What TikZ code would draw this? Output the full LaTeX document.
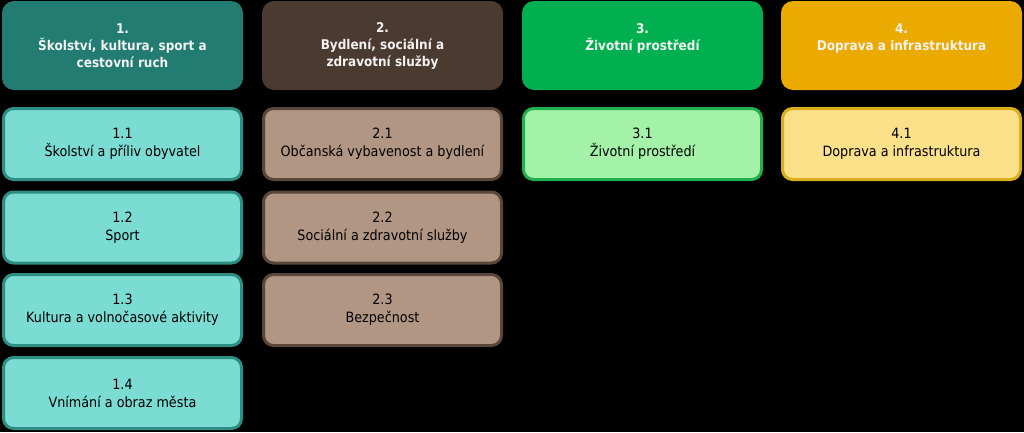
\documentclass[tikz,border=0pt]{standalone}
\usepackage{fontspec}
\setmainfont{DejaVu Sans Condensed}
\usepackage{tikz}
\usetikzlibrary{positioning}

\definecolor{hlavA}{HTML}{227C72}
\definecolor{hlavB}{HTML}{4A3A30}
\definecolor{hlavC}{HTML}{00B050}
\definecolor{hlavD}{HTML}{EAAA00}
\definecolor{podA}{HTML}{7ADCD3}
\definecolor{podB}{HTML}{B29684}
\definecolor{podC}{HTML}{A3F2A8}
\definecolor{podD}{HTML}{F9E089}
\definecolor{okrA}{HTML}{2E8E84}
\definecolor{okrB}{HTML}{5A463A}
\definecolor{okrC}{HTML}{22B04E}
\definecolor{okrD}{HTML}{D9AE1A}

\begin{document}
\begin{tikzpicture}[x=1pt,y=-1pt,
		hlava/.style={rounded corners=12pt, minimum width=241pt, minimum height=89pt,
			text=white!95!black, align=center, font=\fontsize{13.4}{17}\selectfont\bfseries, inner sep=0pt},
		pod/.style={rounded corners=10pt, minimum width=238pt, minimum height=71pt,
			line width=3pt, text=black, align=center, font=\fontsize{14.2}{18}\selectfont, inner sep=0pt}]
		
		\fill[black] (0,0) rectangle (1024,432);
		\useasboundingbox (0,0) rectangle (1024,432);
		
		% hlavni oblasti
		\node[hlava, fill=hlavA] (h1) at (122.5,45.5) {1.\\Školství, kultura, sport a\\cestovní ruch};
		\node[hlava, fill=hlavB] (h2) at (382.5,45.5) {2.\\Bydlení, sociální a\\zdravotní služby};
		\node[hlava, fill=hlavC] (h3) at (642.5,45.5) {3.\\Životní prostředí\\~};
		\node[hlava, fill=hlavD] (h4) at (901.5,45.5) {4.\\Doprava a infrastruktura\\~};
		
		% podoblasti
		\node[pod, fill=podA, draw=okrA] (p11) at (122.5,144) {1.1\\Školství a příliv obyvatel};
		\node[pod, fill=podA, draw=okrA] (p12) at (122.5,227.5) {1.2\\Sport};
		\node[pod, fill=podA, draw=okrA] (p13) at (122.5,310) {1.3\\Kultura a volnočasové aktivity};
		\node[pod, fill=podA, draw=okrA] (p14) at (122.5,393) {1.4\\Vnímání a obraz města};
		
		\node[pod, fill=podB, draw=okrB] (p21) at (382.5,144) {2.1\\Občanská vybavenost a bydlení};
		\node[pod, fill=podB, draw=okrB] (p22) at (382.5,227.5) {2.2\\Sociální a zdravotní služby};
		\node[pod, fill=podB, draw=okrB] (p23) at (382.5,310) {2.3\\Bezpečnost};
		
		\node[pod, fill=podC, draw=okrC] (p31) at (642.5,144) {3.1\\Životní prostředí};
		
		\node[pod, fill=podD, draw=okrD] (p41) at (901.5,144) {4.1\\Doprava a infrastruktura};
		
	\end{tikzpicture}
\end{document}
